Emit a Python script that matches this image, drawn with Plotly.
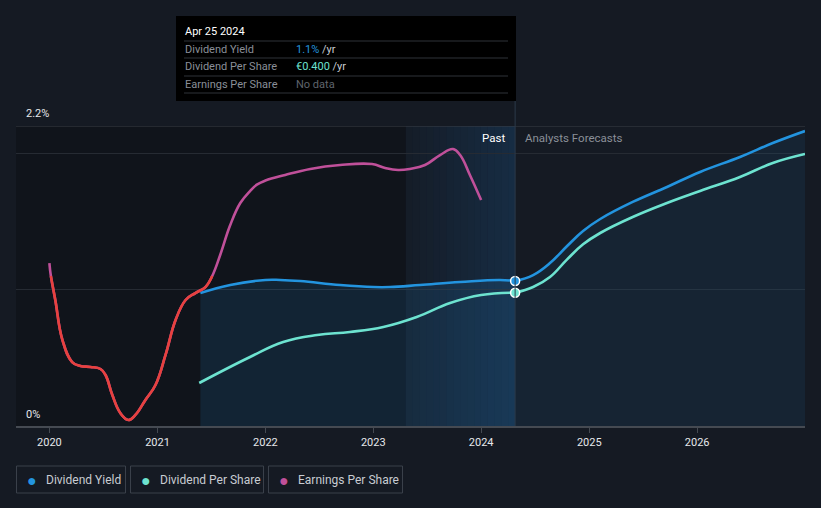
import plotly.graph_objects as go
import pandas as pd

# ---------------- data ----------------
year_ticks = ["2020-01-01", "2021-01-01", "2022-01-01", "2023-01-01",
              "2024-01-01", "2025-01-01", "2026-01-01"]
year_labels = ["2020", "2021", "2022", "2023", "2024", "2025", "2026"]

# Dividend yield (%), past
dy_past_dates = ["2021-05-26", "2021-09-04", "2022-01-01", "2022-02-20", "2022-04-29",
                 "2022-09-11", "2023-01-01", "2023-02-27", "2023-06-08", "2023-10-22",
                 "2024-03-05", "2024-04-25"]
dy_past_vals = [0.975, 1.034, 1.071, 1.071, 1.063, 1.034, 1.019, 1.019, 1.034, 1.056,
                1.071, 1.063]

# Dividend yield (%), analyst forecast
dy_fc_dates = ["2024-04-25", "2024-06-25", "2024-08-21", "2024-10-18", "2024-12-11",
               "2025-02-07", "2025-05-28", "2025-09-21", "2026-01-11", "2026-05-26",
               "2026-09-14", "2027-01-01"]
dy_fc_vals = [1.063, 1.107, 1.195, 1.320, 1.430, 1.518, 1.643, 1.753, 1.863, 1.973,
              2.075, 2.163]

# Dividend per share (EUR), past
dps_past_dates = ["2021-05-22", "2021-11-10", "2022-03-02", "2022-06-25", "2022-10-14",
                  "2023-02-04", "2023-05-28", "2023-09-18", "2024-01-01", "2024-04-25"]
dps_past_vals = [0.129, 0.207, 0.252, 0.273, 0.282, 0.297, 0.327, 0.369, 0.393, 0.400]

# Dividend per share (EUR), forecast
dps_fc_dates = dy_fc_dates
dps_fc_vals = [0.400, 0.417, 0.447, 0.500, 0.545, 0.579, 0.627, 0.669, 0.705, 0.747,
               0.789, 0.816]

# Earnings per share (scaled to chart)
eps_dates = ["2020-01-01", "2020-01-06", "2020-01-21", "2020-02-14", "2020-03-18",
             "2020-04-15", "2020-05-19", "2020-06-22", "2020-07-09", "2020-08-01",
             "2020-08-28", "2020-09-24", "2020-10-18", "2020-11-21", "2020-12-25",
             "2021-01-28", "2021-03-03", "2021-04-06", "2021-05-09", "2021-06-12",
             "2021-07-05", "2021-08-01", "2021-09-04", "2021-10-08", "2021-11-10",
             "2021-12-03", "2022-01-01", "2022-03-09", "2022-06-02", "2022-09-11",
             "2022-12-28", "2023-02-10", "2023-03-26", "2023-05-05", "2023-06-25",
             "2023-08-15", "2023-09-28", "2023-10-22", "2023-11-24", "2024-01-01"]
eps_vals = [1.195, 1.10, 0.924, 0.631, 0.469, 0.44, 0.433, 0.418, 0.374, 0.227,
            0.095, 0.044, 0.081, 0.191, 0.301, 0.521, 0.777, 0.924, 0.975, 1.019,
            1.10, 1.254, 1.474, 1.635, 1.723, 1.770, 1.800, 1.841, 1.885, 1.914,
            1.921, 1.892, 1.877, 1.885, 1.914, 1.987, 2.031, 1.987, 1.841, 1.657]
EPS_LOW = 1.10

x_start, x_end = "2019-09-10", "2027-01-01"
past_band_start = "2023-04-21"
today = "2024-04-25"

# ---------------- style ----------------
BG = "#151a23"
BLUE = "#2394df"
TEAL = "#6de3d0"
MAGENTA = "#c0509a"
RED = "#e8413e"
FONT = "Roboto"
SMOOTH = 1.2

W, H = 821, 508
L, R, T, B = 16, 16, 126, 82
PW, PH = W - L - R, H - T - B


def px(x):
    return (x - L) / PW


def py(y):
    return (H - B - y) / PH


def line(color):
    return dict(color=color, width=2.6, shape="spline", smoothing=SMOOTH)


fig = go.Figure()

fig.add_trace(go.Scatter(x=dy_past_dates, y=dy_past_vals, mode="lines", line=line(BLUE),
                         fill="tozeroy", fillcolor="rgba(35,148,223,0.13)",
                         hoverinfo="skip", showlegend=False))
fig.add_trace(go.Scatter(x=dy_fc_dates, y=dy_fc_vals, mode="lines", line=line(BLUE),
                         fill="tozeroy", fillcolor="rgba(35,148,223,0.09)",
                         hoverinfo="skip", showlegend=False))

fig.add_trace(go.Scatter(x=dps_past_dates, y=dps_past_vals, mode="lines", yaxis="y2",
                         line=line(TEAL), hoverinfo="skip", showlegend=False))
fig.add_trace(go.Scatter(x=dps_fc_dates, y=dps_fc_vals, mode="lines", yaxis="y2",
                         line=line(TEAL), hoverinfo="skip", showlegend=False))

fig.add_trace(go.Scatter(x=eps_dates, y=eps_vals, mode="lines", line=line(MAGENTA),
                         hoverinfo="skip", showlegend=False))
eps_low = [v if v <= EPS_LOW + 1e-9 else None for v in eps_vals]
fig.add_trace(go.Scatter(x=eps_dates, y=eps_low, mode="lines", connectgaps=False,
                         line=line(RED), hoverinfo="skip", showlegend=False))

fig.add_trace(go.Scatter(x=[dy_past_dates[-1]], y=[dy_past_vals[-1]], mode="markers",
                         marker=dict(color=BLUE, size=9, line=dict(color="white", width=1.5)),
                         hoverinfo="skip", showlegend=False))
fig.add_trace(go.Scatter(x=[dps_past_dates[-1]], y=[dps_past_vals[-1]], mode="markers",
                         yaxis="y2",
                         marker=dict(color=TEAL, size=9, line=dict(color="white", width=1.5)),
                         hoverinfo="skip", showlegend=False))

shapes = []
shapes.append(dict(type="rect", xref="x", yref="paper", x0=x_start, x1=past_band_start,
                   y0=0, y1=1, fillcolor="rgba(0,0,0,0.22)", line=dict(width=0),
                   layer="below"))
b0 = pd.Timestamp(past_band_start)
b1 = pd.Timestamp(today)
steps = 16
for i in range(steps):
    s0 = b0 + (b1 - b0) * i / steps
    s1 = b0 + (b1 - b0) * (i + 1) / steps
    a = 0.03 + 0.17 * (i + 0.5) / steps
    shapes.append(dict(type="rect", xref="x", yref="paper", x0=s0, x1=s1,
                       y0=0, y1=1, fillcolor=f"rgba(30,120,200,{a:.3f})",
                       line=dict(width=0), layer="below"))
shapes.append(dict(type="line", xref="paper", yref="y", x0=0, x1=1, y0=2.2, y1=2.2,
                   line=dict(color="#3a3f47", width=1.2), layer="below"))
shapes.append(dict(type="line", xref="x", yref="paper", x0=today, x1=today,
                   y0=0, y1=py(100), line=dict(color="#2c3a4a", width=1)))
shapes.append(dict(type="rect", xref="paper", yref="paper", x0=px(176), x1=px(516),
                   y0=py(101), y1=py(16), fillcolor="#000000", line=dict(width=0)))
for ly in [41, 58, 76, 93]:
    shapes.append(dict(type="line", xref="paper", yref="paper", x0=px(184), x1=px(508),
                       y0=py(ly), y1=py(ly), line=dict(color="#2e3238", width=1)))
for x0, x1 in [(16.5, 125.5), (130.5, 263.5), (268.5, 402.5)]:
    shapes.append(dict(type="rect", xref="paper", yref="paper", x0=px(x0), x1=px(x1),
                       y0=py(493), y1=py(466), line=dict(color="#3a404a", width=1),
                       fillcolor="rgba(0,0,0,0)"))

ann = []


def text(x, y, s, color, size=11, anchor="left"):
    ann.append(dict(xref="paper", yref="paper", x=px(x), y=py(y), text=s,
                    showarrow=False, xanchor=anchor, yanchor="middle",
                    font=dict(family=FONT, size=size, color=color)))


text(183, 31, "Apr 25 2024", "#ffffff", 11)
text(183, 49, "Dividend Yield", "#8a8f98", 11)
text(183, 66, "Dividend Per Share", "#8a8f98", 11)
text(183, 84, "Earnings Per Share", "#8a8f98", 11)
text(294, 49, f"<span style='color:{BLUE}'>{dy_past_vals[-1]:.1f}%</span> /yr", "#c8ccd2", 11)
text(294, 66, f"<span style='color:{TEAL}'>€{dps_past_vals[-1]:.3f}</span> /yr", "#c8ccd2", 11)
text(294, 84, "No data", "#5f646c", 11)

text(24, 114, "2.2%", "#e6e8eb", 11)
text(24, 414, "0%", "#e6e8eb", 11)

text(507, 138, "Past", "#ffffff", 11.5, anchor="right")
text(523, 138, "Analysts Forecasts", "#8a8f98", 11.5)

for cx, tx, col, lab in [(32, 44, BLUE, "Dividend Yield"),
                         (146, 158, TEAL, "Dividend Per Share"),
                         (284, 296, MAGENTA, "Earnings Per Share")]:
    text(cx, 480, "●", col, 16, anchor="center")
    text(tx, 480, lab, "#c8ccd2", 12)

fig.update_layout(
    width=W, height=H,
    margin=dict(l=L, r=R, t=T, b=B),
    paper_bgcolor=BG, plot_bgcolor=BG,
    font=dict(family=FONT, color="#d0d3d8"),
    showlegend=False, hovermode=False,
    shapes=shapes, annotations=ann,
    xaxis=dict(type="date", range=[x_start, x_end], tickvals=year_ticks,
               ticktext=year_labels, showgrid=False, zeroline=False,
               showline=True, linecolor="#454a52", linewidth=1.5,
               ticks="outside", ticklen=5, tickcolor="#454a52",
               tickfont=dict(family=FONT, size=11, color="#e6e8eb")),
    yaxis=dict(range=[0, 2.2], tickvals=[1, 2], showticklabels=False,
               gridcolor="#262b33", gridwidth=1, zeroline=False, showline=False),
    yaxis2=dict(range=[0, 0.9], overlaying="y", visible=False),
)

fig.write_html("out.html", config={"displayModeBar": False},
               post_script="document.body.style.margin='0';"
                           "document.body.style.background='#151a23';")
